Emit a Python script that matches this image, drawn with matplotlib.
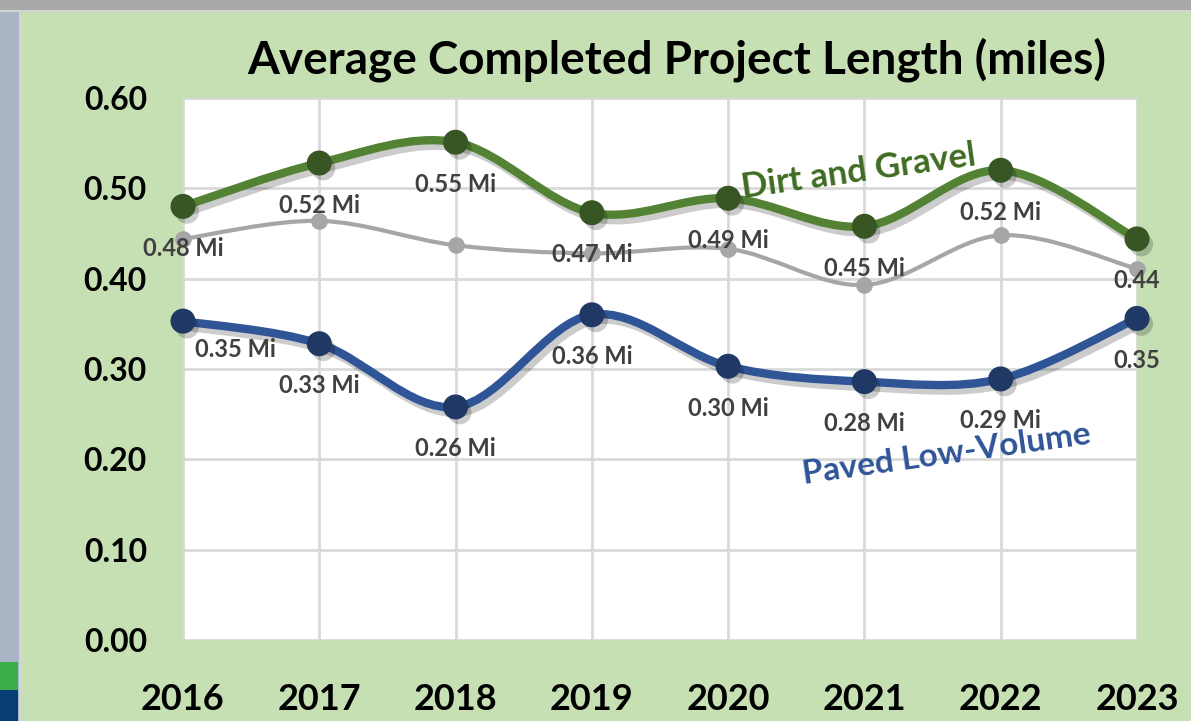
import numpy as np
import matplotlib.pyplot as plt
import matplotlib.patheffects as pe
from matplotlib.path import Path
from matplotlib.patches import PathPatch, Rectangle

years = [2016, 2017, 2018, 2019, 2020, 2021, 2022, 2023]
dirt_gravel = [0.48, 0.528, 0.551, 0.473, 0.489, 0.458, 0.520, 0.444]
paved_low = [0.353, 0.328, 0.258, 0.360, 0.303, 0.286, 0.289, 0.356]
combined = [0.444, 0.464, 0.437, 0.428, 0.433, 0.393, 0.448, 0.411]
dirt_labels = ['0.48 Mi', '0.52 Mi', '0.55 Mi', '0.47 Mi', '0.49 Mi', '0.45 Mi', '0.52 Mi', '0.44']
paved_labels = ['0.35 Mi', '0.33 Mi', '0.26 Mi', '0.36 Mi', '0.30 Mi', '0.28 Mi', '0.29 Mi', '0.35']
y_ticks = [0.0, 0.1, 0.2, 0.3, 0.4, 0.5, 0.6]

FONT = ['Lato', 'DejaVu Sans']
BG = '#c6e0b4'


def smooth_path(x, y):
    # Excel-style smoothed line: cubic Bezier with Catmull-Rom control points
    x = np.asarray(x, float)
    y = np.asarray(y, float)
    verts = [(x[0], y[0])]
    codes = [Path.MOVETO]
    n = len(x)
    for i in range(n - 1):
        p0 = (x[max(i - 1, 0)], y[max(i - 1, 0)])
        p1 = (x[i], y[i])
        p2 = (x[i + 1], y[i + 1])
        p3 = (x[min(i + 2, n - 1)], y[min(i + 2, n - 1)])
        c1 = (p1[0] + (p2[0] - p0[0]) / 6, p1[1] + (p2[1] - p0[1]) / 6)
        c2 = (p2[0] - (p3[0] - p1[0]) / 6, p2[1] - (p3[1] - p1[1]) / 6)
        verts += [c1, c2, p2]
        codes += [Path.CURVE4] * 3
    return Path(verts, codes)


fig = plt.figure(figsize=(11.91, 7.21), dpi=100)
fig.patch.set_facecolor(BG)

# screenshot frame bits
fig.patches.append(Rectangle((0, 0), 19 / 1191, 1, transform=fig.transFigure,
                             facecolor='#a9b4c4', edgecolor='none'))
fig.patches.append(Rectangle((19 / 1191, 0), 2 / 1191, 1, transform=fig.transFigure,
                             facecolor='#d4d4d4', edgecolor='none'))
fig.patches.append(Rectangle((0, 1 - 10 / 721), 1, 10 / 721, transform=fig.transFigure,
                             facecolor='#a8a8a8', edgecolor='none'))
fig.patches.append(Rectangle((0, 1 - 12 / 721), 1, 2 / 721, transform=fig.transFigure,
                             facecolor='#d4d4d4', edgecolor='none'))
fig.patches.append(Rectangle((0, 31 / 721), 18 / 1191, 28 / 721, transform=fig.transFigure,
                             facecolor='#3aae48', edgecolor='none'))
fig.patches.append(Rectangle((0, 0), 18 / 1191, 31 / 721, transform=fig.transFigure,
                             facecolor='#063d73', edgecolor='none'))

ax = fig.add_axes([183 / 1191, 81 / 721, 954 / 1191, 542 / 721])
ax.set_facecolor('white')
ax.set_xlim(years[0], years[-1])
ax.set_ylim(0, 0.6)
ax.set_yticks(y_ticks)
ax.set_yticklabels([f'{v:.2f}' for v in y_ticks])
ax.set_xticks(years)
ax.set_xticklabels([str(y) for y in years])
ax.grid(True, color='#d9d9d9', linewidth=2)
ax.set_axisbelow(True)
for s in ax.spines.values():
    s.set_visible(False)
ax.tick_params(length=0)
ax.tick_params(axis='y', pad=26)
ax.tick_params(axis='x', pad=31)
for lab in ax.get_yticklabels():
    lab.set_fontsize(23)
    lab.set_fontweight('bold')
    lab.set_family(FONT)
for lab in ax.get_xticklabels():
    lab.set_fontsize(26)
    lab.set_fontweight('bold')
    lab.set_family(FONT)

line_shadow = [pe.SimpleLineShadow(offset=(3, -4), shadow_color='#000000', alpha=0.2), pe.Normal()]
dot_shadow = [pe.SimplePatchShadow(offset=(3, -4), shadow_rgbFace='#000000', alpha=0.2), pe.Normal()]

series = [
    (combined, '#a6a6a6', '#a6a6a6', 3, 11),
    (dirt_gravel, '#548235', '#375623', 6, 17),
    (paved_low, '#2f5597', '#1f3864', 6, 17),
]
for vals, lc, mc, lw, ms in series:
    patch = PathPatch(smooth_path(years, vals), facecolor='none', edgecolor=lc,
                      linewidth=lw, capstyle='round', joinstyle='round',
                      clip_on=False, zorder=3)
    if lw > 4:
        patch.set_path_effects(line_shadow)
    ax.add_patch(patch)
    ax.plot(years, vals, linestyle='none', marker='o', markersize=ms,
            color=mc, clip_on=False, zorder=4,
            path_effects=dot_shadow if lw > 4 else None)

for x, v, t in zip(years, dirt_gravel, dirt_labels):
    ax.annotate(t, (x, v), xytext=(0, -42), textcoords='offset pixels',
                ha='center', va='center', fontsize=17, fontweight='bold',
                color='#404040', family=FONT, zorder=5, annotation_clip=False)
for x, v, t in zip(years, paved_low, paved_labels):
    dx = 52 if x == years[0] else 0
    dy = -28 if x == years[0] else -42
    ax.annotate(t, (x, v), xytext=(dx, dy), textcoords='offset pixels',
                ha='center', va='center', fontsize=17, fontweight='bold',
                color='#404040', family=FONT, zorder=5, annotation_clip=False)

ax.text(2020.96, 0.518, 'Dirt and Gravel', rotation=8, ha='center', va='center',
        fontsize=25, fontweight='bold', color='#3f6b22', family=FONT)
ax.text(2021.6, 0.205, 'Paved Low-Volume', rotation=8, ha='center', va='center',
        fontsize=24, fontweight='bold', color='#2f5597', family=FONT)

fig.text(0.568, 1 - 60 / 721, 'Average Completed Project Length (miles)',
         ha='center', va='center', fontsize=33, fontweight='bold',
         color='black', family=FONT)

fig.savefig('out.png', dpi=100, facecolor=fig.get_facecolor())
